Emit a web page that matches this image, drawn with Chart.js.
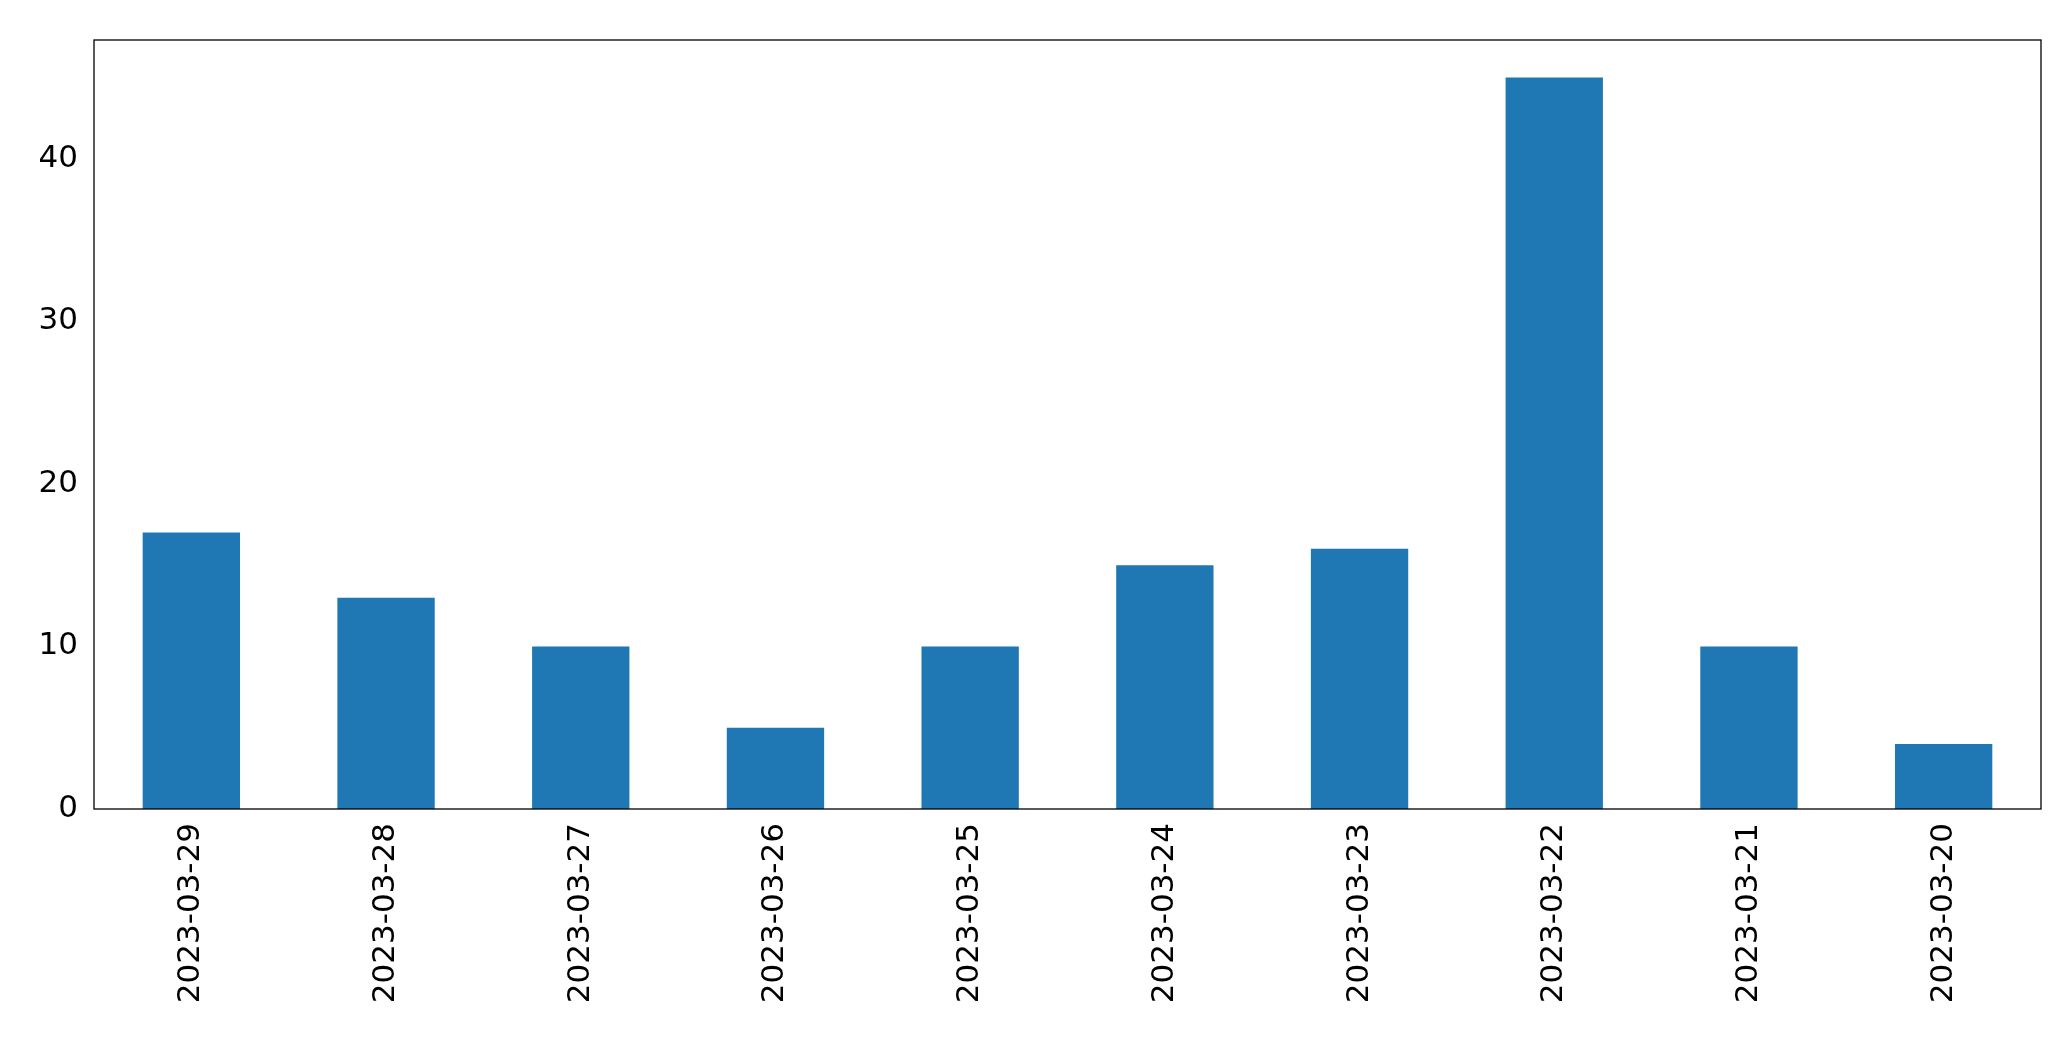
<!DOCTYPE html>
<html>
<head>
<meta charset="utf-8">
<script src="https://cdn.jsdelivr.net/npm/chart.js@4"></script>
<style>
  html, body { margin: 0; padding: 0; background: #fff; }
  #wrap { width: 2071px; height: 1061px; }
</style>
</head>
<body>
<div id="wrap"><canvas id="chart"></canvas></div>
<script>
const dates = ['2023-03-29', '2023-03-28', '2023-03-27', '2023-03-26', '2023-03-25',
               '2023-03-24', '2023-03-23', '2023-03-22', '2023-03-21', '2023-03-20'];
const counts = [17, 13, 10, 5, 10, 15, 16, 45, 10, 4];
const yTicks = [0, 10, 20, 30, 40];

// frame around the plot area, like matplotlib's spines
const frame = {
  id: 'frame',
  afterDraw(chart) {
    const { ctx, chartArea: a } = chart;
    ctx.save();
    ctx.strokeStyle = '#000';
    ctx.lineWidth = 1.3;
    ctx.strokeRect(a.left, a.top, a.right - a.left, a.bottom - a.top);
    ctx.restore();
  }
};

new Chart(document.getElementById('chart'), {
  type: 'bar',
  data: {
    labels: dates,
    datasets: [{
      data: counts,
      backgroundColor: '#1f77b4',
      categoryPercentage: 1.0,
      barPercentage: 0.5
    }]
  },
  options: {
    responsive: true,
    maintainAspectRatio: false,
    animation: false,
    layout: { padding: { top: 40, right: 30, left: 0, bottom: 0 } },
    plugins: { legend: { display: false }, tooltip: { enabled: false } },
    scales: {
      x: {
        grid: { display: false, drawTicks: true, tickLength: 10, tickColor: '#000' },
        border: { display: false },
        ticks: {
          color: '#000', minRotation: 90, maxRotation: 90, padding: 4,
          font: { family: 'DejaVu Sans', size: 31 }
        },
        afterFit(s) { s.height = 252; }
      },
      y: {
        min: 0, max: 47.3,
        afterBuildTicks(s) { s.ticks = yTicks.map(v => ({ value: v })); },
        grid: { display: false, drawTicks: true, tickLength: 10, tickColor: '#000' },
        border: { display: false },
        ticks: {
          color: '#000', padding: 6,
          font: { family: 'DejaVu Sans', size: 31 }
        },
        afterFit(s) { s.width = 94; }
      }
    }
  },
  plugins: [frame]
});
</script>
</body>
</html>
